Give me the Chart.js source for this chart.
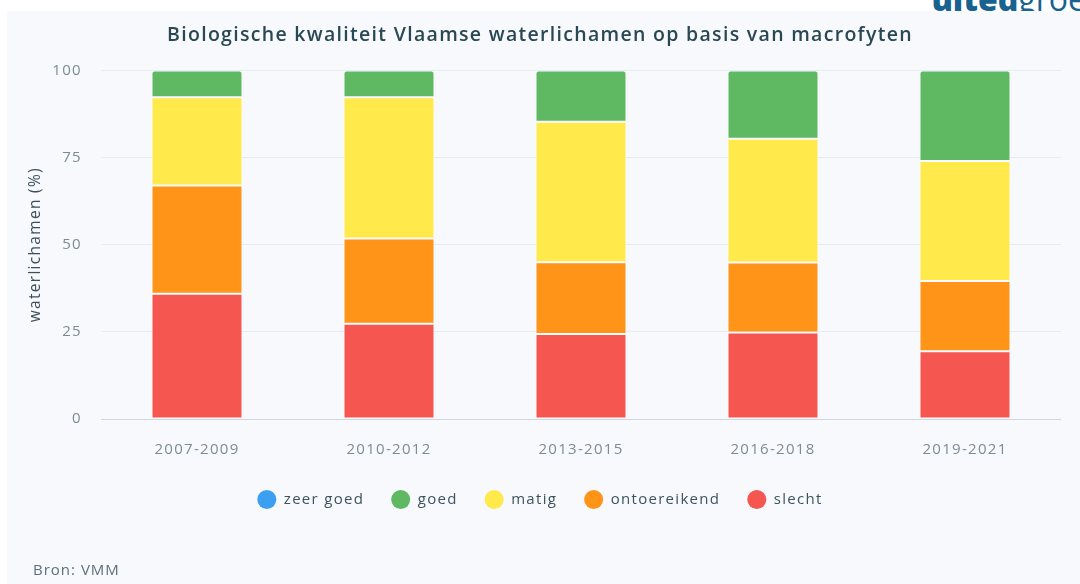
<!DOCTYPE html>
<html>
<head>
<meta charset="utf-8">
<script src="https://cdn.jsdelivr.net/npm/chart.js@4/dist/chart.umd.min.js"></script>
<style>
  html, body { margin: 0; padding: 0; background: #fff; width: 1080px; height: 584px; overflow: hidden; font-family: "Open Sans", sans-serif; }
  #logo { position: absolute; right: -6px; top: -23px; font-size: 32px; color: #17628f; white-space: nowrap; }
  #logo b { font-weight: 800; }
  #panel { position: absolute; left: 7px; top: 11px; width: 1073px; height: 573px; background: #f7f9fd; }
  #bron { position: absolute; left: 26px; top: 548px; font-size: 15px; letter-spacing: 1px; color: #5f7178; }
</style>
</head>
<body>
<div id="logo"><b>uited</b>groe</div>
<div id="panel">
  <canvas id="chart" width="1073" height="573"></canvas>
  <div id="bron">Bron: VMM</div>
</div>
<script>
    const $ = (sel, ctx = document) => ctx.querySelector(sel);

    // ---------- Data ----------
    const periodes = ['2007-2009', '2010-2012', '2013-2015', '2016-2018', '2019-2021'];
    const slecht = [35.9, 27.3, 24.4, 24.8, 19.4];
    const ontoereikend = [31.1, 24.5, 20.6, 20.1, 20.2];
    const matig = [25.3, 40.5, 40.3, 35.5, 34.4];
    const goed = [7.7, 7.7, 14.7, 19.6, 26.0];
    const zeerGoed = [0, 0, 0, 0, 0];
    const yTicks = [0, 25, 50, 75, 100];

    // legendvolgorde
    const reeksen = [
        { label: 'zeer goed', data: zeerGoed, color: '#3d9ff2' },
        { label: 'goed', data: goed, color: '#5fb963' },
        { label: 'matig', data: matig, color: '#ffe94b' },
        { label: 'ontoereikend', data: ontoereikend, color: '#ff9419' },
        { label: 'slecht', data: slecht, color: '#f55650' },
    ];

    // stapel: slecht onderaan, dus omgekeerde volgorde
    const datasets = reeksen.slice().reverse().map((r) => ({
        label: r.label,
        data: r.data,
        backgroundColor: r.color,
        borderColor: 'rgba(255,255,255,0.7)',
        borderWidth: 1,
        borderSkipped: false,
        borderRadius: r.label === 'goed' ? { topLeft: 3, topRight: 3 } : 0,
        categoryPercentage: 1,
        barPercentage: 0.474,
    }));

    // wat extra letterafstand zoals het origineel
    const spacing = {
        id: 'spacing',
        afterInit: (c) => { c.ctx.letterSpacing = '1.3px'; },
        beforeUpdate: (c) => { c.ctx.letterSpacing = '1.3px'; },
        beforeDraw: (c) => { c.ctx.letterSpacing = '1.3px'; }
    };

    new Chart($('#chart'), {
        type: 'bar',
        data: { labels: periodes, datasets },
        plugins: [spacing],
        options: {
            responsive: false, animation: false,
            layout: { padding: { left: 12, right: 19, top: 0, bottom: 67 } },
            plugins: {
                title: {
                    display: true,
                    text: 'Biologische kwaliteit Vlaamse waterlichamen op basis van macrofyten',
                    color: '#2a4853',
                    font: { family: 'Open Sans', size: 19.5, weight: '600' },
                    padding: { top: 13, bottom: 23 }
                },
                legend: {
                    position: 'bottom',
                    labels: {
                        usePointStyle: true, pointStyle: 'circle',
                        boxHeight: 13.5, pointStyleWidth: 19,
                        padding: 27,
                        color: '#3e535c',
                        font: { family: 'Open Sans', size: 15 },
                        generateLabels: (chart) => reeksen.map((r) => ({
                            text: r.label, fillStyle: r.color, strokeStyle: r.color,
                            lineWidth: 0, pointStyle: 'circle', hidden: false,
                            fontColor: '#3e535c',
                            datasetIndex: chart.data.datasets.findIndex(d => d.label === r.label)
                        }))
                    }
                },
                tooltip: { callbacks: { label: (c) => `${c.dataset.label}: ${c.parsed.y}%` } }
            },
            scales: {
                x: {
                    stacked: true,
                    grid: { display: false },
                    border: { display: false },
                    ticks: { color: '#7d8c92', font: { family: 'Open Sans', size: 15 }, padding: 14 },
                    afterFit: (s) => { s.height = 46; }
                },
                y: {
                    stacked: true,
                    min: 0, max: 100,
                    afterBuildTicks: (s) => { s.ticks = yTicks.map(v => ({ value: v })); },
                    grid: {
                        color: (c) => c.tick && c.tick.value === 0 ? '#cfd8dd' : '#e7ecf0',
                        drawTicks: false
                    },
                    border: { display: false },
                    ticks: { color: '#7d8c92', font: { family: 'Open Sans', size: 15 }, padding: 19 },
                    title: {
                        display: true, text: 'waterlichamen (%)',
                        color: '#3b5058', font: { family: 'Open Sans', size: 15.5 },
                        padding: { top: 7, bottom: 4 }
                    },
                    afterFit: (s) => { s.width = 82; }
                }
            }
        }
    });
</script>
</body>
</html>
